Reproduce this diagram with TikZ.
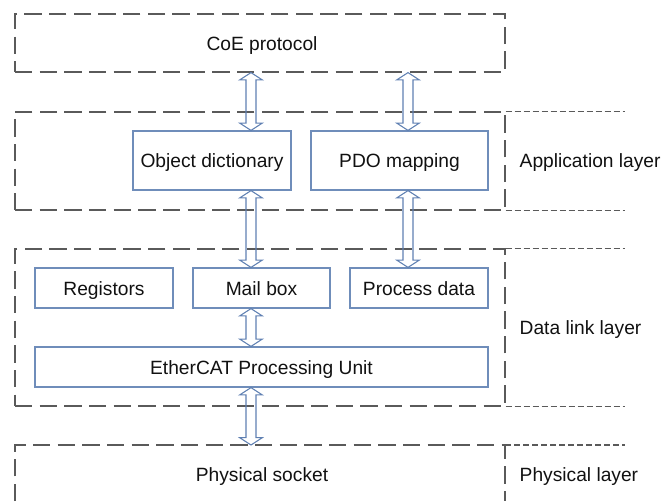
\documentclass[tikz,border=0pt]{standalone}
\usepackage{fontspec}
\setmainfont{Liberation Sans}
\usetikzlibrary{calc}
\definecolor{dashgray}{HTML}{5A5A5A}
\definecolor{boxblue}{HTML}{6F8DBA}
\definecolor{arrowblue}{HTML}{5F80B2}
\definecolor{ink}{HTML}{111111}

% hollow two-headed block arrow between two points on one vertical
\newcommand{\fatarrow}[2]{%
  \draw[fatline] let \p1=#1, \p2=#2 in
    (\x1,\y1) -- ++(8.5pt,-5.5pt) -- ++(-4.75pt,0pt)
    -- (\x1+3.75pt,\y2+5.5pt) -- ++(4.75pt,0pt) -- (\x1,\y2)
    -- ++(-8.5pt,5.5pt) -- ++(4.75pt,0pt)
    -- (\x1-3.75pt,\y1-5.5pt) -- ++(-4.75pt,0pt) -- cycle;}

\begin{document}
\begin{tikzpicture}[x=0.75pt,y=-0.75pt,
  font=\fontsize{14.4}{17}\selectfont,color=ink,
  layerbox/.style={draw=dashgray,line width=0.9pt,dash pattern=on 13pt off 5.5pt,
                   inner sep=0pt},
  tail/.style={draw=dashgray,line width=0.9pt,dash pattern=on 4.5pt off 2.25pt},
  blk/.style={draw=boxblue,line width=0.9pt,inner sep=0pt,minimum height=30pt,
              text height=12.5pt,text depth=2pt},
  txt/.style={text height=12.5pt,text depth=2pt},
  fatline/.style={draw=arrowblue,line width=0.8pt,line join=miter},
  side/.style={txt,anchor=west}]
\useasboundingbox (0,0) rectangle (662,501);

% layers
\node[layerbox,minimum width=367.5pt,minimum height=43.5pt] (coe) at (260,43) {};
\node[txt] (coetxt) at (262,43) {CoE protocol};
\node[layerbox,minimum width=367.5pt,minimum height=73.5pt] (app) at (260,161) {};
\node[layerbox,minimum width=367.5pt,minimum height=117.75pt] (dll) at (260,327.5) {};
\coordinate (phy) at (15,445);
\coordinate (edge) at (625,0);
\draw[layerbox] (15,501) -- (phy) -- (505,445) -- (505,501);
\draw[tail] (app.north east) -- (app.north east -| edge);
\draw[tail] (app.south east) -- (app.south east -| edge);
\draw[tail] (dll.north east) -- (dll.north east -| edge);
\draw[tail] (dll.south east) -- (dll.south east -| edge);
\draw[tail] (505,445) -- (phy -| edge);

\node[side] (applbl) at (515,160) {Application layer};
\node[side] (dlllbl) at (515,327) {Data link layer};
\node[side] (phylbl) at (515,474) {Physical layer};
\node[txt] (socket) at (262,474) {Physical socket};

% blocks
\node[blk,minimum width=118.5pt,minimum height=44.25pt] (objdict) at (212,160.5) {Object dictionary};
\node[blk,minimum width=132.75pt,minimum height=44.25pt] (pdo) at (399.5,160.5) {PDO mapping\hspace{15pt}};
\node[blk,minimum width=103.5pt] (reg) at (104,288) {Registors};
\node[blk,minimum width=102.75pt] (mail) at (261.5,288) {Mail box};
\node[blk,minimum width=103.5pt] (proc) at (419,288) {Process data};
\node[blk,minimum width=339.75pt] (ecat) at (261.5,367) {EtherCAT Processing Unit};

% arrows
\coordinate (ax1) at (251,0);
\coordinate (ax2) at (408,0);
\fatarrow{(coe.south -| ax1)}{(objdict.north -| ax1)}
\fatarrow{(coe.south -| ax2)}{(pdo.north -| ax2)}
\fatarrow{(objdict.south -| ax1)}{(mail.north -| ax1)}
\fatarrow{(pdo.south -| ax2)}{(proc.north -| ax2)}
\fatarrow{(mail.south -| ax1)}{(ecat.north -| ax1)}
\fatarrow{(ecat.south -| ax1)}{(phy -| ax1)}
\end{tikzpicture}
\end{document}
